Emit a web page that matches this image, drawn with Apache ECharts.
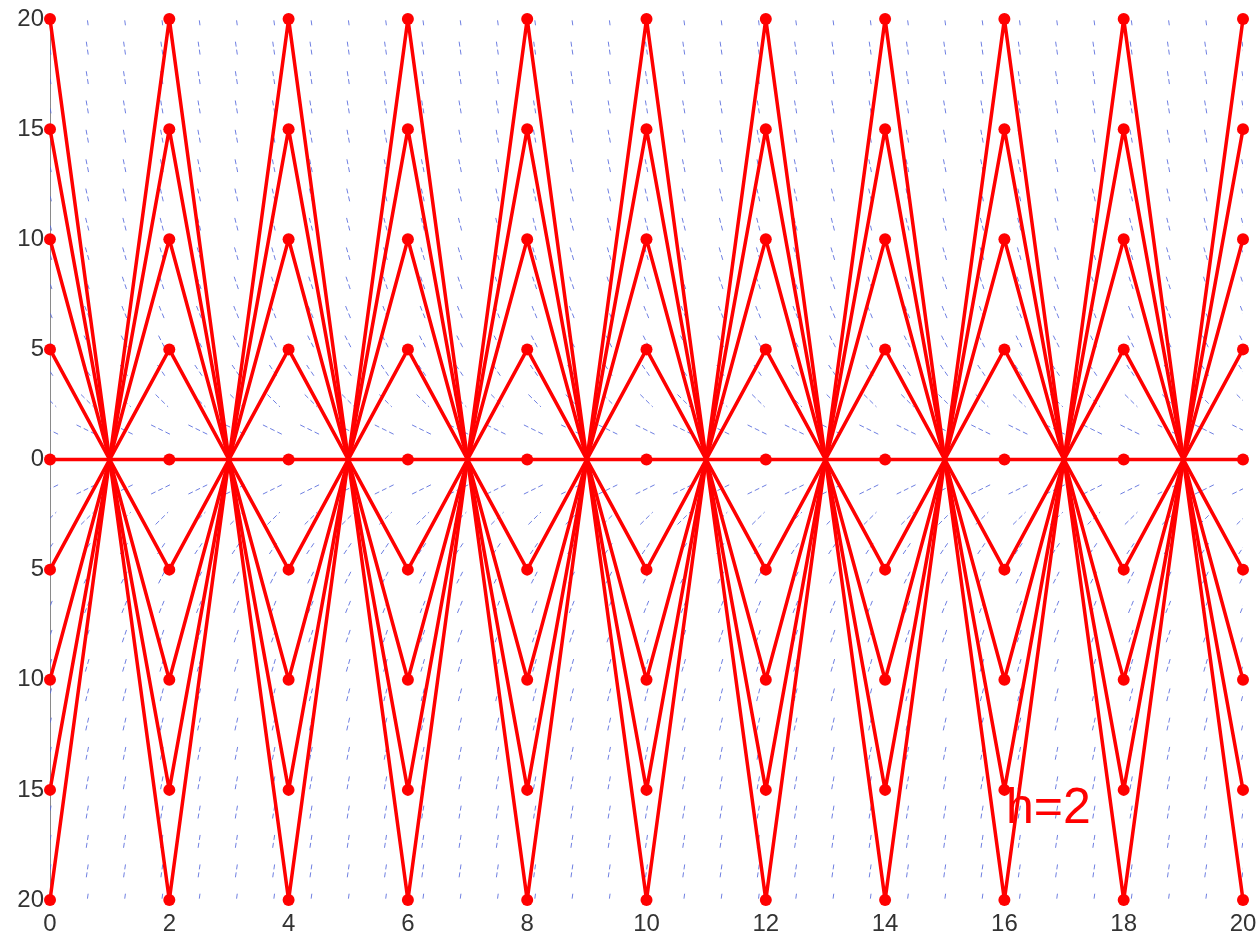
<!DOCTYPE html>
<html>
<head>
<meta charset="utf-8">
<script src="https://cdn.jsdelivr.net/npm/echarts@6/dist/echarts.min.js"></script>
<style>
  html, body { margin: 0; padding: 0; background: #fff; }
  #main { width: 1260px; height: 938px; }
</style>
</head>
<body>
<div id="main"></div>
<script>
// Euler steps for y' = -y with h = 2, one run per starting value
var xSteps = [0, 2, 4, 6, 8, 10, 12, 14, 16, 18, 20];
var runP20 = [20, -20, 20, -20, 20, -20, 20, -20, 20, -20, 20];
var runP15 = [15, -15, 15, -15, 15, -15, 15, -15, 15, -15, 15];
var runP10 = [10, -10, 10, -10, 10, -10, 10, -10, 10, -10, 10];
var runP5 = [5, -5, 5, -5, 5, -5, 5, -5, 5, -5, 5];
var runZero = [0, 0, 0, 0, 0, 0, 0, 0, 0, 0, 0];
var runM5 = [-5, 5, -5, 5, -5, 5, -5, 5, -5, 5, -5];
var runM10 = [-10, 10, -10, 10, -10, 10, -10, 10, -10, 10, -10];
var runM15 = [-15, 15, -15, 15, -15, 15, -15, 15, -15, 15, -15];
var runM20 = [-20, 20, -20, 20, -20, 20, -20, 20, -20, 20, -20];
var runs = [runP20, runP15, runP10, runP5, runZero, runM5, runM10, runM15, runM20];

// direction field grid
var fieldX = [0, 0.625, 1.25, 1.875, 2.5, 3.125, 3.75, 4.375, 5, 5.625, 6.25, 6.875,
    7.5, 8.125, 8.75, 9.375, 10, 10.625, 11.25, 11.875, 12.5, 13.125, 13.75, 14.375,
    15, 15.625, 16.25, 16.875, 17.5, 18.125, 18.75, 19.375, 20];
var fieldY = [-20, -18.67, -17.33, -16, -14.67, -13.33, -12, -10.67, -9.33, -8, -6.67,
    -5.33, -4, -2.67, -1.33, 0, 1.33, 2.67, 4, 5.33, 6.67, 8, 9.33, 10.67, 12, 13.33,
    14.67, 16, 17.33, 18.67, 20];

var xTicks = [0, 2, 4, 6, 8, 10, 12, 14, 16, 18, 20];
var yTicks = [-20, -15, -10, -5, 0, 5, 10, 15, 20];

var slope = function (x, y) { return -y; };

var fieldData = [];
fieldX.forEach(function (x) {
    fieldY.forEach(function (y) {
        fieldData.push([x, y]);
    });
});

var myChart = echarts.init(document.getElementById('main'));

var series = [{
    type: 'custom',
    clip: true,
    silent: true,
    z: 1,
    data: fieldData,
    renderItem: function (params, api) {
        var x = api.value(0), y = api.value(1);
        var s = slope(x, y);
        var n = Math.sqrt(1 + s * s);
        var half = 0.3;
        var p1 = api.coord([x - half / n, y - half * s / n]);
        var p2 = api.coord([x + half / n, y + half * s / n]);
        return {
            type: 'line',
            shape: { x1: p1[0], y1: p1[1], x2: p2[0], y2: p2[1] },
            style: { stroke: 'rgba(85,105,220,0.85)', lineWidth: 1, lineDash: [5, 3] }
        };
    }
}];

runs.forEach(function (run, i) {
    series.push({
        type: 'line',
        z: 3,
        data: xSteps.map(function (x, k) { return [x, run[k]]; }),
        symbol: 'circle',
        symbolSize: 12,
        showSymbol: true,
        animation: false,
        lineStyle: { color: '#f00', width: 3.5 },
        itemStyle: { color: '#f00', borderWidth: 0 }
    });
});

var option = {
    animation: false,
    backgroundColor: '#fff',
    grid: { left: 50, right: 17, top: 19, bottom: 38 },
    xAxis: {
        type: 'value',
        min: xTicks[0],
        max: xTicks[xTicks.length - 1],
        interval: 2,
        splitLine: { show: false },
        axisTick: { show: false },
        axisLine: { lineStyle: { color: '#8a8a8a', width: 1 } },
        axisLabel: { color: '#333', fontSize: 24, fontFamily: 'Liberation Sans', margin: 12 }
    },
    yAxis: {
        type: 'value',
        min: yTicks[0],
        max: yTicks[yTicks.length - 1],
        interval: 5,
        splitLine: { show: false },
        axisTick: { show: false },
        axisLine: { show: true, lineStyle: { color: '#8a8a8a', width: 1 } },
        axisLabel: {
            color: '#333', fontSize: 24, fontFamily: 'Liberation Sans', margin: 6,
            formatter: function (v) { return String(Math.abs(v)); }
        }
    },
    graphic: [{
        type: 'text',
        left: 1006,
        top: 784,
        z: 10,
        style: { text: 'h=2', fill: '#f00', fontSize: 50, fontFamily: 'Liberation Sans' }
    }],
    series: series
};

myChart.setOption(option);
</script>
</body>
</html>
